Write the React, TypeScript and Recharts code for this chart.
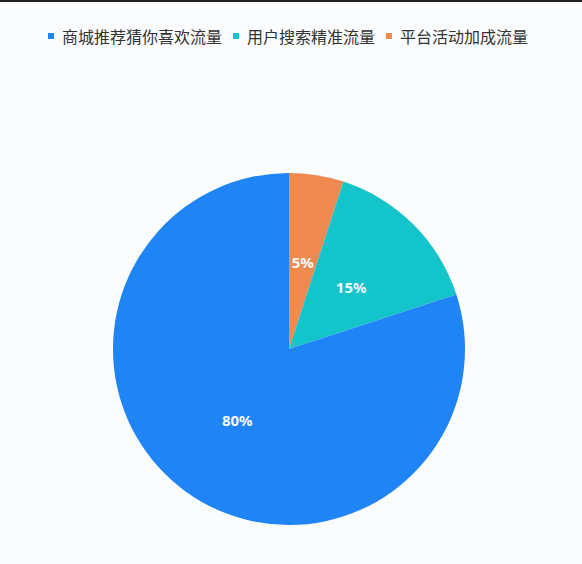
import { PieChart, Pie, Cell } from 'recharts';

const CATEGORIES = ['平台活动加成流量', '用户搜索精准流量', '商城推荐猜你喜欢流量'];
const VALUES = [5, 15, 80];
const COLORS = ['#ee8a50', '#13c4cb', '#1f84f5'];
const LEGEND_ORDER = [2, 1, 0];

const chartData = CATEGORIES.map((name, i) => ({ name, value: VALUES[i], color: COLORS[i] }));
const total = VALUES.reduce((s, v) => s + v, 0);

const RADIAN = Math.PI / 180;

const renderLabel = (props: any) => {
  const { cx, cy, midAngle, outerRadius, value } = props;
  const r = outerRadius * 0.5;
  const x = cx + r * Math.cos(-midAngle * RADIAN);
  const y = cy + r * Math.sin(-midAngle * RADIAN);
  return (
    <text
      x={x}
      y={y}
      fill="#f4f8ff"
      textAnchor="middle"
      dominantBaseline="central"
      fontSize={15}
      fontWeight={700}
      fontFamily="'Noto Sans', sans-serif"
    >
      {`${Math.round((value / total) * 100)}%`}
    </text>
  );
};

export default function App() {
  return (
    <div style={{ position: 'relative', width: 582, height: 564, background: '#fbfcfe' }}>
      <style>{'body{margin:0;background:#fbfcfe;}'}</style>
      <div style={{ position: 'absolute', top: 0, left: 0, width: 582, height: 2, background: '#222' }} />
      <div
        style={{
          position: 'absolute',
          top: 24,
          left: 0,
          width: 576,
          display: 'flex',
          justifyContent: 'center',
          gap: 11,
          fontFamily: "'Noto Sans CJK SC', sans-serif",
          fontSize: 16,
          lineHeight: '24px',
          color: '#333',
        }}
      >
        {LEGEND_ORDER.map((i) => (
          <span key={CATEGORIES[i]} style={{ display: 'flex', alignItems: 'center', gap: 8 }}>
            <span style={{ width: 6, height: 6, background: COLORS[i], display: 'inline-block' }} />
            {CATEGORIES[i]}
          </span>
        ))}
      </div>
      <PieChart width={582} height={564} margin={{ top: 0, right: 0, bottom: 0, left: 0 }}>
        <Pie
          data={chartData}
          dataKey="value"
          nameKey="name"
          cx={289}
          cy={349}
          outerRadius={176}
          startAngle={90}
          endAngle={-270}
          stroke="none"
          label={renderLabel}
          labelLine={false}
          isAnimationActive={false}
        >
          {chartData.map((entry, index) => (
            <Cell key={`cell-${index}`} fill={entry.color} />
          ))}
        </Pie>
      </PieChart>
    </div>
  );
}
